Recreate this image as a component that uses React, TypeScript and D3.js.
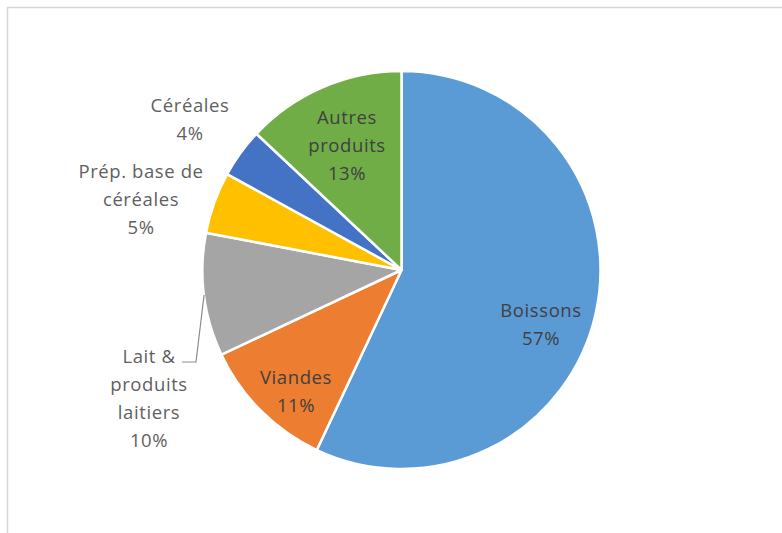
import React from "react";
import * as d3 from "d3";

const categories = ["Boissons", "Viandes", "Lait & produits laitiers", "Prép. base de céréales", "Céréales", "Autres produits"];
const values = [57, 11, 10, 5, 4, 13];
const colors = ["#5B9BD5", "#ED7D31", "#A5A5A5", "#FFC000", "#4472C4", "#70AD47"];
const labelLines = [
  ["Boissons", "57%"],
  ["Viandes", "11%"],
  ["Lait &", "produits", "laitiers", "10%"],
  ["Prép. base de", "céréales", "5%"],
  ["Céréales", "4%"],
  ["Autres", "produits", "13%"],
];

const W = 782, H = 533;
const cx = 401.5, cy = 270, R = 199;
// label layout: center x, first line center y, inside?
const labelPos = [
  { x: 541, y: 310, inside: true },
  { x: 296, y: 377, inside: true },
  { x: 149, y: 356, inside: false },
  { x: 141, y: 171, inside: false },
  { x: 190, y: 105, inside: false },
  { x: 347, y: 117, inside: true },
];
const lineH = 28.3;

export default function App() {
  const pie = d3.pie<number>().sort(null).value((d) => d);
  const arcs = pie(values);
  const arc = d3.arc<d3.PieArcDatum<number>>().innerRadius(0).outerRadius(R);
  const edge = d3.arc<d3.PieArcDatum<number>>().innerRadius(R).outerRadius(R);
  const laitAnchor = edge.centroid(arcs[2]);
  const leader = [
    [cx + laitAnchor[0], cy + laitAnchor[1]],
    [196, 362],
    [182, 362],
  ];
  return (
    <svg width={W} height={H} style={{ position: "absolute", left: 0, top: 0, background: "#fff" }}
      fontFamily="'Open Sans', 'Liberation Sans', sans-serif">
      <rect x={0} y={0} width={W} height={H} fill="#fff" />
      <rect x={7.5} y={7.5} width={W + 20} height={H + 20} fill="none" stroke="#d6d6d6" strokeWidth={1.5} />
      <g transform={`translate(${cx},${cy})`}>
        {arcs.map((a, i) => (
          <path key={categories[i]} d={arc(a) || ""} fill={colors[i]} stroke="#fff" strokeWidth={2.5} strokeLinejoin="round" />
        ))}
      </g>
      <polyline points={leader.map((p) => p.join(",")).join(" ")} fill="none" stroke="#8c8c8c" strokeWidth={1.2} />
      {labelLines.map((lines, i) => (
        <text key={i} textAnchor="middle" fontSize={18.5} letterSpacing={0.6}
          fill={labelPos[i].inside ? "#404040" : "#5f5f5f"}>
          {lines.map((l, j) => (
            <tspan key={j} x={labelPos[i].x} y={labelPos[i].y + j * lineH + 6.5}>{l}</tspan>
          ))}
        </text>
      ))}
    </svg>
  );
}
